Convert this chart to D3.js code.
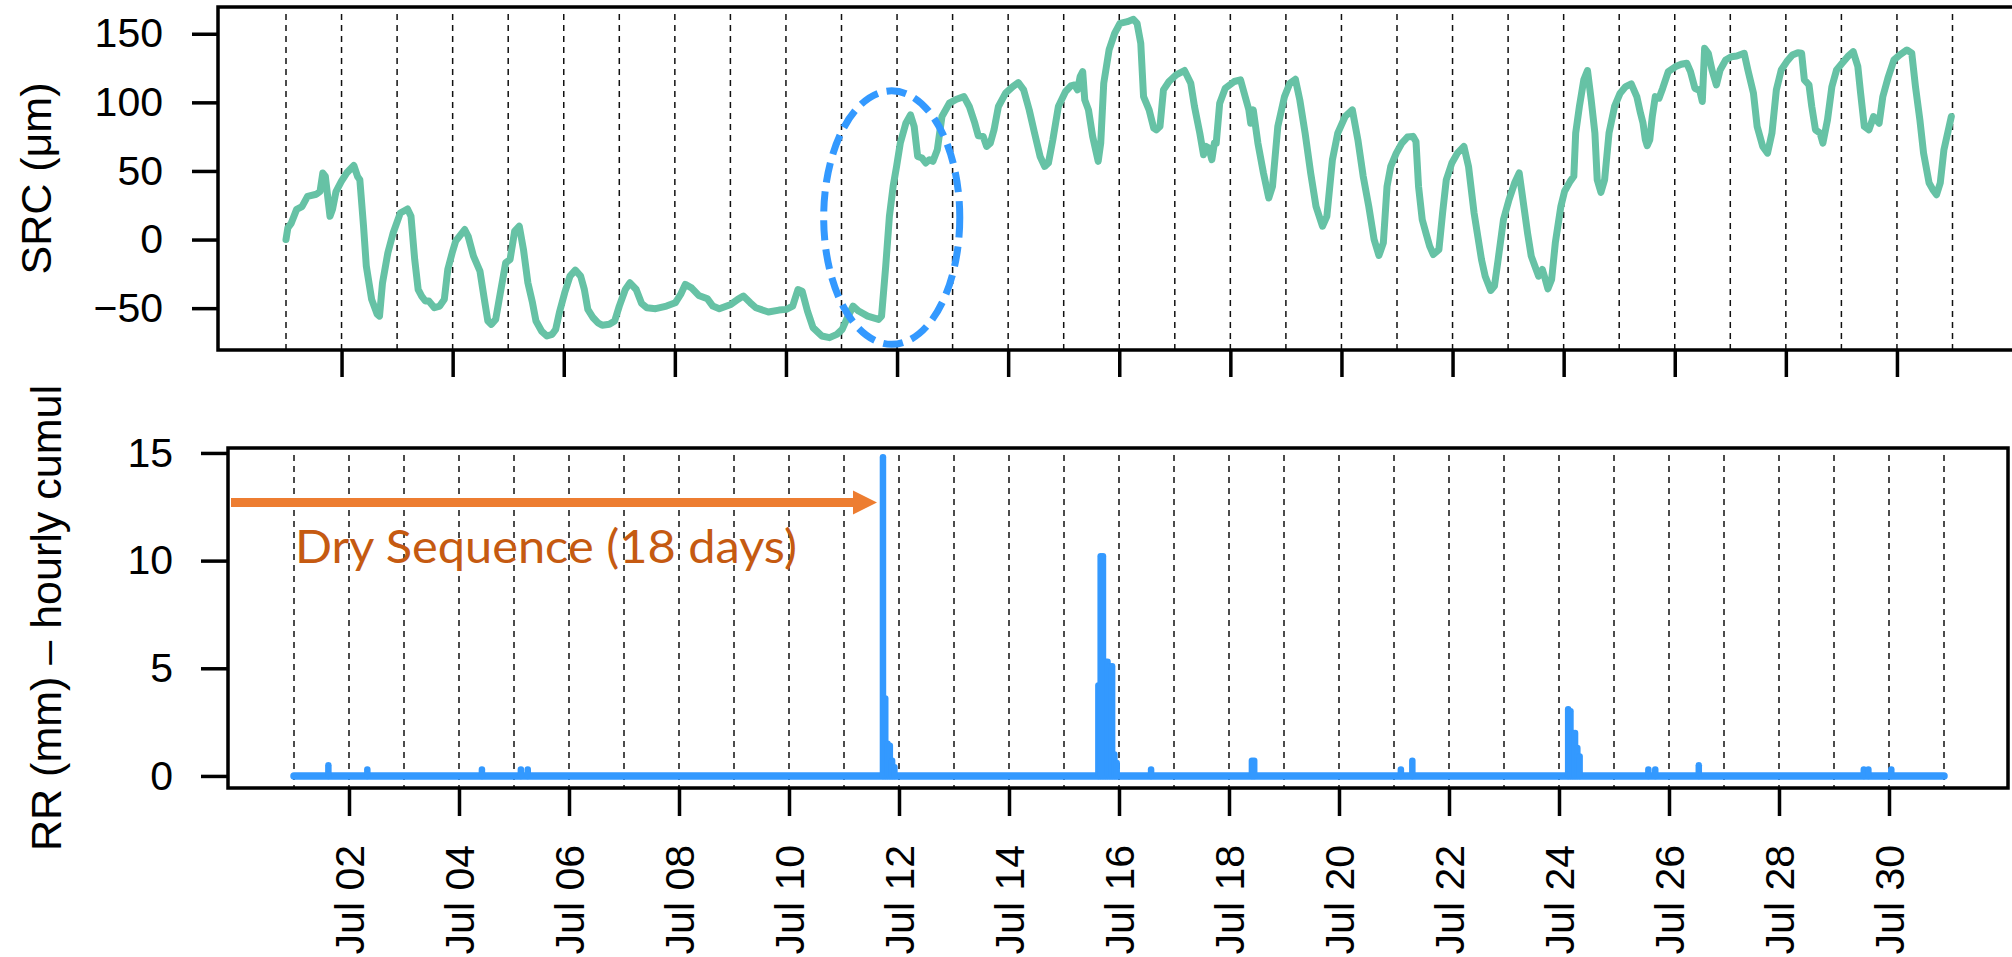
<!DOCTYPE html>
<html>
<head>
<meta charset="utf-8">
<script src="https://cdn.jsdelivr.net/npm/d3@7"></script>
<style>
  html, body { margin: 0; padding: 0; background: #fff; }
  svg { display: block; font-family: "Liberation Sans", Arial, sans-serif; }
</style>
</head>
<body>
<svg id="chart" width="2012" height="957"></svg>
<script>
'use strict';

// SRC (µm): [hours since Jul 1 00:00, value]
var srcSeries = [
  [0,0],[0.8,8.5],[2.3,12],[4.6,22],[6.9,24],[9.3,31.5],[13.1,33],[14.7,35],[15.9,48.5],[17,46],[19,17],[20.1,22],
  [21.6,35],[23.9,42.4],[26.2,48.5],[29.3,54],[30.9,46],[31.9,43.6],[33.5,9.7],[34.7,-19.4],[37,-43.6],[39.4,-54.5],
  [40.4,-55.8],[41.7,-31.5],[44,-9.7],[46.3,4.8],[49.4,19.4],[52.5,22.3],[54,17],[55.6,-14.5],[57.1,-36.4],[58.6,-41.2],
  [60.2,-44.8],[61.7,-44.8],[64.1,-49.7],[66.4,-48.5],[68.4,-43.6],[69.9,-21.8],[71.8,-9.7],[73.3,-1.2],[77.2,7.3],
  [78.7,2.4],[81,-12.1],[83.8,-23],[85.7,-43.6],[87.2,-59.4],[88.7,-61.8],[90.6,-58.2],[92.6,-38.8],[94.9,-17],
  [96.8,-14.5],[98.8,6.1],[100.8,9.7],[102.6,-7.3],[104.5,-31.5],[106.5,-46.1],[108,-59.4],[110.4,-66.7],[112.7,-70.3],
  [115,-69.1],[116.5,-65.5],[118.1,-53.3],[120.4,-38.8],[122.7,-26.7],[125,-22.3],[127.3,-26.7],[128.9,-36.4],
  [130.4,-50.9],[132.7,-57],[134.7,-60.6],[136.6,-62.5],[139.7,-61.8],[142,-59.4],[144,-48.5],[146.6,-36.4],
  [148.6,-31.5],[151.3,-36.4],[153.6,-46.5],[155.9,-49.7],[159.7,-50.4],[164.4,-48.5],[168.2,-46.1],[170.5,-40],
  [172.5,-32.7],[175.2,-35.2],[178.3,-40.7],[182.1,-43.2],[184.4,-48.5],[187.2,-50.4],[192.2,-47.3],[195.2,-43.6],
  [197.6,-41.2],[200.6,-46.1],[203,-49.7],[208.4,-52.8],[213,-51.4],[216.1,-50.9],[218.9,-48.5],[221.2,-36.4],
  [223,-37.6],[225.3,-52.1],[227.7,-64.2],[231.5,-70.3],[234.8,-71.5],[238,-69.1],[240.3,-65.5],[242.2,-58.2],
  [245,-48.5],[247.4,-52.1],[251.3,-55.8],[256,-58.2],[257.3,-55.8],[259.1,-19.4],[260.7,17],[262.3,38.8],[263.8,53.3],
  [265.4,70.3],[267.8,84.8],[269.8,90.9],[271.4,82.4],[272.9,60.6],[274.8,59.4],[276.4,55.8],[278,58.2],[279.5,57],
  [281.4,65.5],[283.4,89.7],[286.6,99.4],[289.7,102.3],[292.9,104.2],[295.2,97],[297.6,84.8],[299.1,75.6],[301.2,75.2],
  [302.7,67.9],[304.3,70.3],[305.9,80],[307.8,97],[310.9,106.7],[314,111.5],[316.4,114.4],[318.7,109.1],[321.1,94.5],
  [323.4,77.6],[325.8,60.6],[327.8,53.3],[329.4,55.8],[331.3,72.7],[333.7,97],[336.8,107.9],[339.1,112],[340.7,112.7],
  [342,109.1],[343.1,118.8],[344.2,122.4],[345.1,101.8],[346.7,94.5],[348.5,75.2],[350.9,57],[352,70.3],[353.3,113.9],
  [355.6,138.2],[358,150.3],[360.3,157.6],[363.5,158.8],[366.1,160.5],[367.7,157.6],[369.3,143],[370.5,104.2],
  [372.9,94.5],[374.9,81.2],[376,80],[377.6,82.4],[379.1,109.1],[381.5,115.2],[384.6,120],[388.2,123.2],[390.9,113.9],
  [392.5,97],[394.8,77.6],[396.4,61.8],[397.5,67.9],[398.7,66.7],[400,58.2],[401.1,70.3],[401.9,70.3],[403.4,99.4],
  [405.8,110.3],[409.7,115.2],[412.4,116.4],[414.4,104.2],[416,94.5],[416.8,84.8],[417.9,94.5],[419.9,70.3],[422.3,48.5],
  [424.6,30.3],[426.2,38.8],[428.5,82.4],[431.4,104.2],[433.7,113.9],[436.1,116.8],[438,101.8],[440.3,77.6],[442.7,48.5],
  [445,24.2],[447.8,9.7],[449.7,17],[452.1,58.2],[454.4,77.6],[457.6,89.7],[460.7,94.5],[463.1,72.7],[465.4,46.1],
  [467.8,24.2],[470.1,0],[472.2,-11.6],[474.1,-2.4],[475.7,38.8],[477.3,53.3],[479.7,63],[482.1,70.3],[484.5,74.7],
  [486.9,75.2],[488.2,71.5],[489.3,38.8],[490.9,14.5],[492.5,4.8],[494.1,-4.8],[495.7,-10.9],[498.1,-7.3],[499.7,19.4],
  [501.3,43.6],[503.7,55.8],[506.1,63],[508.9,67.9],[510.9,53.3],[513.3,19.4],[514.9,2.4],[516.5,-14.5],[518.1,-26.7],
  [520.5,-37.1],[522.1,-33.9],[523.7,-14.5],[526,14.5],[528.4,29.1],[530.8,41.2],[532.8,48.5],[534.8,24.2],[536.4,4.8],
  [538,-12.1],[539.6,-19.4],[541.2,-26.7],[542.8,-21.8],[544.1,-29.1],[545.2,-35.9],[546.8,-29.1],[548.4,-2.4],
  [550.8,24.2],[552.4,35.2],[554.8,42.4],[556.4,46.1],[557.2,77.6],[558.8,97],[560.7,116.4],[562.3,123.2],[563.9,101.8],
  [565.5,77.6],[566.5,43.6],[568.1,34.4],[569.7,43.6],[571.6,77.6],[574,97],[576.4,106.7],[578.8,111.5],[581.2,113.5],
  [583.6,104.2],[585.2,92.1],[586.3,84.8],[587.3,72.7],[588.1,68.4],[589.2,72.7],[590.3,89.7],[591.6,104.2],[593.2,103],
  [594.8,110.3],[597.2,122.4],[600.4,126.1],[602.8,127.8],[605.2,128.5],[606.8,122.4],[608.7,110.3],[610.8,108.6],
  [611.9,100.6],[612.9,139.4],[614.5,135.8],[616.1,123.6],[618,112.7],[619.6,123.6],[622,130.9],[624.4,133.3],
  [626.8,133.8],[630,135.8],[631.6,123.6],[634,106.7],[635.6,82.4],[638,67.9],[640.1,63],[642,77.6],[643.9,109.1],
  [646,123.6],[648.4,129.7],[650.8,134.5],[653.2,136.2],[654.8,135.8],[656,116.4],[658,112.7],[659.2,97],[660.8,80],
  [662.8,77.6],[664,70.3],[666,87.3],[667.9,111.5],[669.9,123.6],[672.3,128.5],[674.7,133.3],[677.1,137],[679.1,126.1],
  [680.3,106.7],[681.9,82.4],[683.9,80],[685.9,89.7],[688.3,84.8],[689.9,104.2],[692.3,118.8],[694.7,130.9],
  [697.1,134.5],[700.3,138.2],[702.4,135.8],[704,111.5],[705.9,87.3],[707.5,63],[709.9,41.2],[711.5,36.4],[713.1,32.7],
  [714.7,41.2],[716.3,65.5],[719.5,89.7]
];

// hourly rain (mm); hours not listed had no rain
var rainHours  = [15, 32, 82, 99, 102, 257, 258, 259, 260, 261, 262, 351, 352, 353, 354, 355, 356, 357, 358, 359,
                  374, 418, 419, 483, 488, 556, 557, 558, 559, 560, 561, 591, 594, 613, 685, 687, 697];
var rainValues = [0.5, 0.3, 0.3, 0.3, 0.3, 14.8, 3.6, 1.5, 1.4, 0.7, 0.4, 4.2, 10.2, 10.2, 5.3, 5.3, 5.1, 5.1, 1.0, 0.6,
                  0.3, 0.7, 0.7, 0.3, 0.7, 3.1, 3.0, 2.0, 2.0, 1.3, 0.9, 0.3, 0.3, 0.5, 0.3, 0.3, 0.3];
var rainPeriodHours = [0, 720];

var srcTicks  = [-50, 0, 50, 100, 150];
var rainTicks = [0, 5, 10, 15];
var gridDays  = d3.range(1, 32);                 // a dashed line at every midnight, Jul 01 .. Jul 31
var labelDays = [2, 4, 6, 8, 10, 12, 14, 16, 18, 20, 22, 24, 26, 28, 30];

// annotations: dashed ellipse (centre hour / value, half sizes) and the dry-spell arrow
var ellipseCentre = [261.7, 16];
var ellipseHalf   = [29.4, 92.4];
var arrowEnd      = [254.4, 12.7];
var dryLabel      = 'Dry Sequence (18 days)';
var dryLabelAt    = [0.4, 9.9];

var jul = function(day) { return new Date(Date.UTC(2019, 6, day)); };
var atHour = function(h) { return new Date(Date.UTC(2019, 6, 1) + h * 3600e3); };

var svg = d3.select('#chart');
svg.append('rect').attr('width', 2012).attr('height', 957).attr('fill', '#fff');

var topBox = { left: 218, right: 2016, top: 7, bottom: 350 };
var botBox = { left: 228, right: 2008, top: 448, bottom: 788 };

var xTop = d3.scaleUtc().domain([jul(1), jul(31)]).range([286, 1952.5]);
var xBot = d3.scaleUtc().domain([jul(1), jul(31)]).range([294, 1944]);
var yTop = d3.scaleLinear().domain([-80.5, 169.5]).range([topBox.bottom, topBox.top]);
var yBot = d3.scaleLinear().domain([-0.56, 15.23]).range([botBox.bottom, botBox.top]);

function dayGrid(x, box) {
  svg.append('g').selectAll('line')
    .data(gridDays)
    .join('line')
      .attr('x1', function(d) { return x(jul(d)); })
      .attr('x2', function(d) { return x(jul(d)); })
      .attr('y1', box.top + 7)
      .attr('y2', box.bottom)
      .attr('stroke', '#111')
      .attr('stroke-width', 1.5)
      .attr('stroke-dasharray', '6,5');
}
dayGrid(xTop, topBox);
dayGrid(xBot, botBox);

// SRC line
var srcLine = d3.line()
    .x(function(d) { return xTop(atHour(d[0])); })
    .y(function(d) { return yTop(d[1]); });

svg.append('path')
    .datum(srcSeries)
    .attr('d', srcLine)
    .attr('fill', 'none')
    .attr('stroke', '#66c2a5')
    .attr('stroke-width', 7)
    .attr('stroke-linejoin', 'round')
    .attr('stroke-linecap', 'round');

// rain: zero baseline over the whole record, then one vertical stroke per rainy hour
var rainColor = '#3399ff';
svg.append('line')
    .attr('x1', xBot(atHour(rainPeriodHours[0])))
    .attr('x2', xBot(atHour(rainPeriodHours[1])))
    .attr('y1', yBot(0)).attr('y2', yBot(0))
    .attr('stroke', rainColor)
    .attr('stroke-width', 7.5)
    .attr('stroke-linecap', 'round');

svg.append('g').selectAll('line')
  .data(d3.zip(rainHours, rainValues))
  .join('line')
    .attr('x1', function(d) { return xBot(atHour(d[0])); })
    .attr('x2', function(d) { return xBot(atHour(d[0])); })
    .attr('y1', yBot(0))
    .attr('y2', function(d) { return yBot(d[1]); })
    .attr('stroke', rainColor)
    .attr('stroke-width', 6.5)
    .attr('stroke-linecap', 'round');

// frames
[topBox, botBox].forEach(function(b) {
  svg.append('rect')
    .attr('x', b.left).attr('y', b.top)
    .attr('width', b.right - b.left).attr('height', b.bottom - b.top)
    .attr('fill', 'none').attr('stroke', '#000').attr('stroke-width', 3.5);
});

function styleAxis(g) {
  g.select('.domain').remove();
  g.selectAll('.tick line').attr('stroke', '#000').attr('stroke-width', 3.5);
  g.selectAll('.tick text').attr('fill', '#000').attr('font-size', 41)
    .attr('font-family', '"Liberation Sans", Arial, sans-serif');
}

svg.append('g')
    .attr('transform', 'translate(' + topBox.left + ',0)')
    .call(d3.axisLeft(yTop).tickValues(srcTicks).tickSize(26).tickPadding(29))
    .call(styleAxis);

svg.append('g')
    .attr('transform', 'translate(' + botBox.left + ',0)')
    .call(d3.axisLeft(yBot).tickValues(rainTicks).tickSize(27).tickPadding(28))
    .call(styleAxis);

svg.append('g')
    .attr('transform', 'translate(0,' + topBox.bottom + ')')
    .call(d3.axisBottom(xTop).tickValues(labelDays.map(jul)).tickSize(27).tickFormat(''))
    .call(styleAxis);

var fmt = d3.utcFormat('%b %d');
svg.append('g')
    .attr('transform', 'translate(0,' + botBox.bottom + ')')
    .call(d3.axisBottom(xBot).tickValues(labelDays.map(jul)).tickSize(28).tickFormat(fmt))
    .call(styleAxis)
    .call(function(g) {
      g.selectAll('.tick text')
        .attr('transform', 'rotate(-90)')
        .attr('x', -57).attr('y', 0)
        .attr('dy', '0.35em')
        .attr('text-anchor', 'end');
    });

// axis titles
svg.append('text')
    .attr('transform', 'translate(51,' + (topBox.top + topBox.bottom) / 2 + ') rotate(-90)')
    .attr('text-anchor', 'middle')
    .attr('font-size', 43)
    .text('SRC (\u03bcm)');

svg.append('text')
    .attr('transform', 'translate(61,' + (botBox.top + botBox.bottom) / 2 + ') rotate(-90)')
    .attr('text-anchor', 'middle')
    .attr('font-size', 43)
    .text('RR (mm) \u2013 hourly cumul');

// dashed ellipse round the Jul 11-12 jump
var ecx = xTop(atHour(ellipseCentre[0]));
var ecy = yTop(ellipseCentre[1]);
svg.append('ellipse')
    .attr('cx', ecx).attr('cy', ecy)
    .attr('rx', xTop(atHour(ellipseCentre[0] + ellipseHalf[0])) - ecx)
    .attr('ry', ecy - yTop(ellipseCentre[1] + ellipseHalf[1]))
    .attr('fill', 'none')
    .attr('stroke', '#3399ff')
    .attr('stroke-width', 7)
    .attr('stroke-dasharray', '20,9');

// dry-sequence arrow
var ax1 = xBot(atHour(arrowEnd[0]));
var ay = yBot(arrowEnd[1]);
var ax0 = botBox.left + 3;
var headLen = 24, headHalf = 12, shaftHalf = 4.5;
svg.append('path')
    .attr('d', 'M' + ax0 + ',' + (ay - shaftHalf) +
               'L' + (ax1 - headLen) + ',' + (ay - shaftHalf) +
               'L' + (ax1 - headLen) + ',' + (ay - headHalf) +
               'L' + ax1 + ',' + ay +
               'L' + (ax1 - headLen) + ',' + (ay + headHalf) +
               'L' + (ax1 - headLen) + ',' + (ay + shaftHalf) +
               'L' + ax0 + ',' + (ay + shaftHalf) + 'Z')
    .attr('fill', '#ed7d31');

svg.append('text')
    .attr('x', xBot(atHour(dryLabelAt[0])))
    .attr('y', yBot(dryLabelAt[1]))
    .attr('font-family', 'Lato, "Open Sans", sans-serif')
    .attr('font-size', 46)
    .attr('fill', '#c55a11')
    .attr('textLength', 502)
    .attr('lengthAdjust', 'spacingAndGlyphs')
    .text(dryLabel);
</script>
</body>
</html>
